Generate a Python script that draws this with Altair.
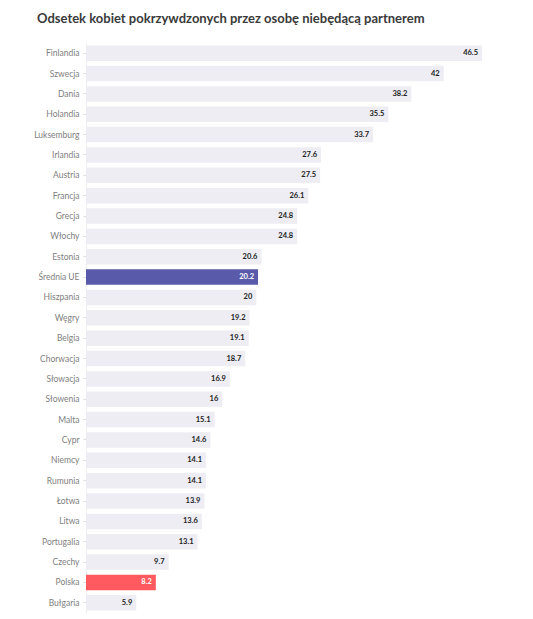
import altair as alt
import pandas as pd

countries = [
    "Finlandia", "Szwecja", "Dania", "Holandia", "Luksemburg", "Irlandia",
    "Austria", "Francja", "Grecja", "Włochy", "Estonia", "Średnia UE",
    "Hiszpania", "Węgry", "Belgia", "Chorwacja", "Słowacja", "Słowenia",
    "Malta", "Cypr", "Niemcy", "Rumunia", "Łotwa", "Litwa", "Portugalia",
    "Czechy", "Polska", "Bułgaria",
]
values = [
    46.5, 42, 38.2, 35.5, 33.7, 27.6, 27.5, 26.1, 24.8, 24.8, 20.6, 20.2,
    20, 19.2, 19.1, 18.7, 16.9, 16, 15.1, 14.6, 14.1, 14.1, 13.9, 13.6,
    13.1, 9.7, 8.2, 5.9,
]
groups = ["kraj"] * len(countries)
groups[countries.index("Średnia UE")] = "ue"
groups[countries.index("Polska")] = "polska"

df = pd.DataFrame({"kraj": countries, "wartosc": values, "grupa": groups})

FONT = "Lato"

y_enc = alt.Y(
    "kraj:N",
    sort=countries,
    title=None,
    scale=alt.Scale(paddingInner=0.24, paddingOuter=0.12),
    axis=alt.Axis(
        labelFont=FONT,
        labelFontSize=8.5,
        labelColor="#808080",
        labelPadding=4,
        tickSize=3,
        tickColor="#dddddd",
        domainColor="#eeeeee",
    ),
)
x_enc = alt.X(
    "wartosc:Q",
    title=None,
    scale=alt.Scale(domain=[0, 46.5], nice=False),
    axis=None,
)

bars = alt.Chart(df).mark_bar(cornerRadius=0).encode(
    x=x_enc,
    y=y_enc,
    color=alt.Color(
        "grupa:N",
        scale=alt.Scale(
            domain=["kraj", "ue", "polska"],
            range=["#ededf3", "#5a5aab", "#ff5a5f"],
        ),
        legend=None,
    ),
)

labels = alt.Chart(df).mark_text(
    align="right", baseline="middle", dx=-4, font=FONT, fontSize=7.5, fontWeight="bold"
).encode(
    x=x_enc,
    y=alt.Y("kraj:N", sort=countries),
    text=alt.Text("wartosc:Q"),
    color=alt.condition(
        alt.datum.grupa == "kraj", alt.value("#222222"), alt.value("#ffffff")
    ),
)

chart = (
    alt.layer(bars, labels)
    .properties(
        width=396,
        height=570,
        background="white",
        title=alt.TitleParams(
            "Odsetek kobiet pokrzywdzonych przez osobę niebędącą partnerem",
            anchor="start",
            frame="group",
            dx=-49,
            offset=17,
            font=FONT,
            fontSize=13,
            fontWeight="bold",
            color="#3a3a3a",
        ),
        autosize=alt.AutoSizeParams(type="none"),
        padding={"left": 86, "top": 43, "right": 51, "bottom": 6},
    )
    .configure_view(strokeWidth=0)
)

chart.save("out.html", embed_options={"renderer": "svg", "actions": False})
